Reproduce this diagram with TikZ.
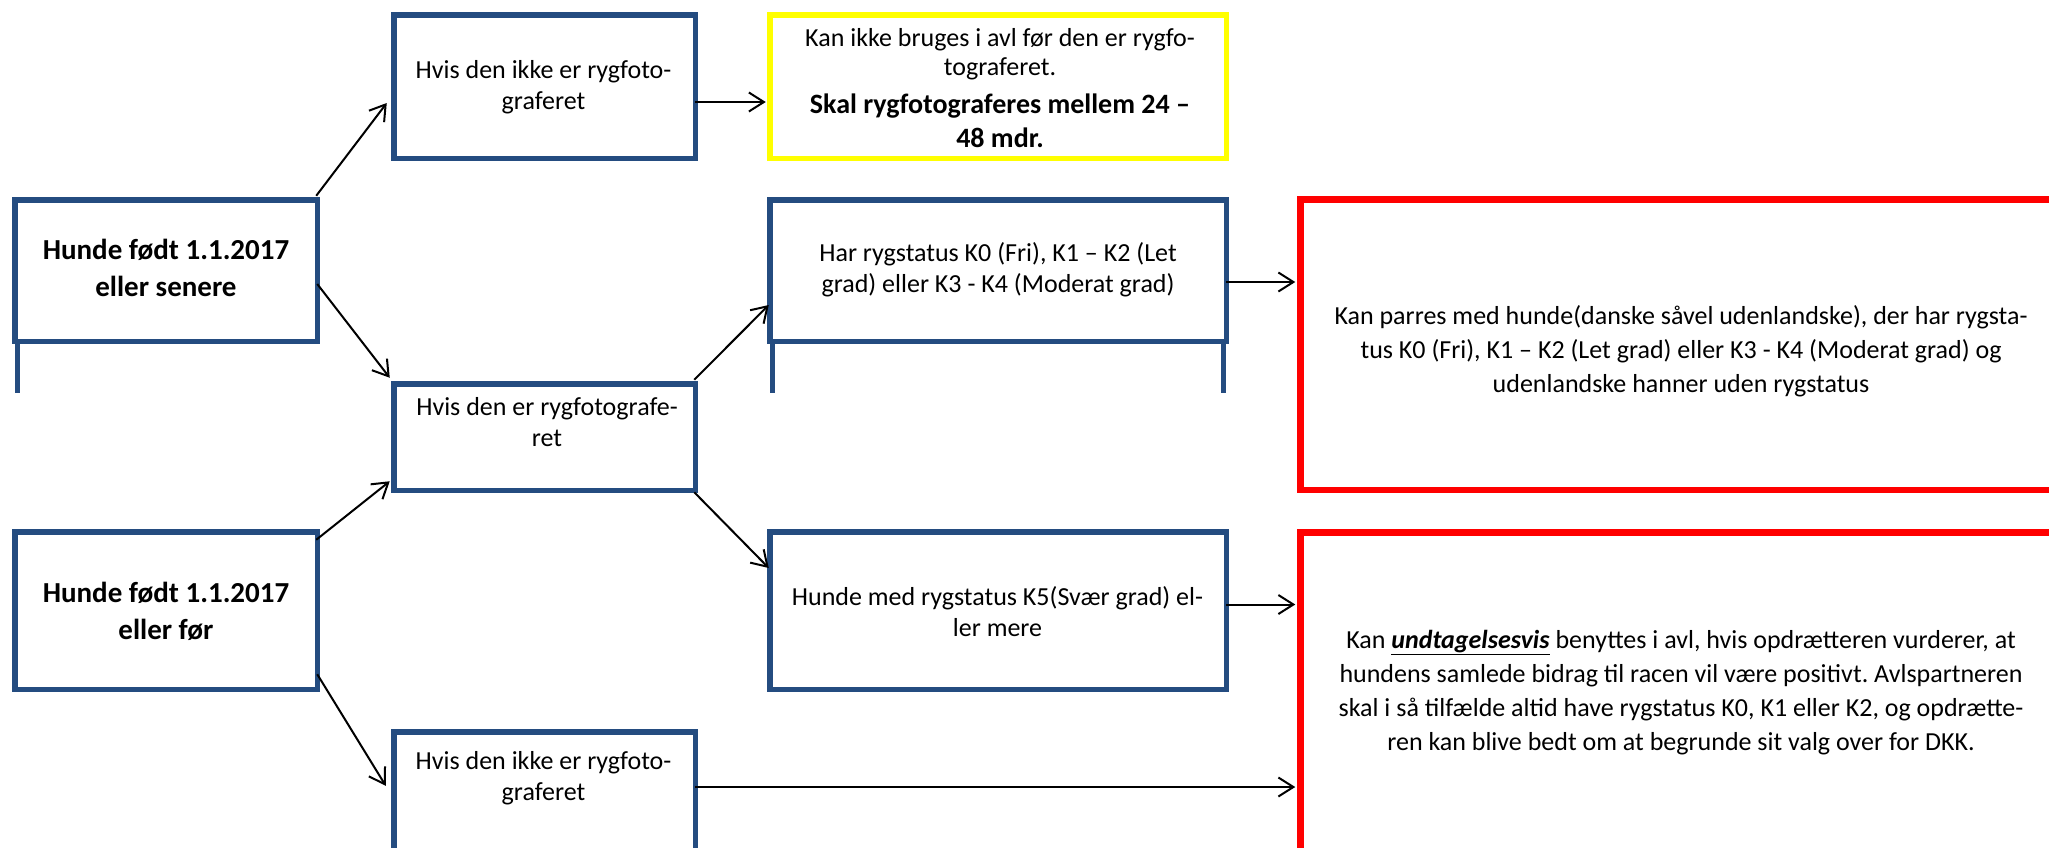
\documentclass[tikz,border=0pt]{standalone}
\usepackage{fontspec}
\setmainfont{Carlito}
\frenchspacing
\usetikzlibrary{arrows.meta,calc}
\definecolor{dblue}{RGB}{36,76,128}
\definecolor{dred}{RGB}{255,0,0}
\definecolor{dyellow}{RGB}{255,255,0}
\tikzset{
  bbox/.style={draw=dblue,line width=5.5pt,inner sep=0pt,outer sep=0pt,rectangle},
  rbox/.style={draw=dred,line width=6.5pt,inner sep=0pt,outer sep=0pt,rectangle},
  ybox/.style={draw=dyellow,line width=5.5pt,inner sep=0pt,outer sep=0pt,rectangle},
  txt/.style={align=center,inner sep=0pt,font=\fontsize{26}{31}\selectfont},
  btxt/.style={align=center,inner sep=0pt,font=\bfseries\fontsize{29}{37}\selectfont},
  conn/.style={line width=2pt,-{Straight Barb[length=15pt,width=19pt]}},
}
\begin{document}
\begin{tikzpicture}[x=1pt,y=-1pt]
\frenchspacing
\useasboundingbox (0,0) rectangle (2049,847);
\clip (0,0) rectangle (2049,847);
% boxes
\node[bbox,minimum width=302.5pt,minimum height=141.5pt] (A) at (166,270.5) {};
\node[bbox,minimum width=302.5pt,minimum height=157.5pt] (B) at (166,610.5) {};
\node[bbox,minimum width=301.5pt,minimum height=143.5pt] (C) at (544.5,86.5) {};
\node[ybox,minimum width=456.5pt,minimum height=143.5pt] (Y) at (998,86.5) {};
\node[bbox,minimum width=456.5pt,minimum height=141.5pt] (D) at (998,270.5) {};
\node[bbox,minimum width=301.5pt,minimum height=106.5pt] (E) at (544.5,437) {};
\node[bbox,minimum width=456.5pt,minimum height=157.5pt] (F) at (998,610.5) {};
\node[bbox,minimum width=301.5pt,minimum height=165.5pt] (G) at (544.5,814.5) {};
\node[rbox,minimum width=796.5pt,minimum height=290.5pt] (R1) at (1698.5,344.5) {};
\node[rbox,minimum width=796.5pt,minimum height=364.5pt] (R2) at (1698.5,714.5) {};
% extended side lines
\draw[dblue,line width=5.5pt] ($(A.south west)+(2.75,0)$) -- ++(0,52);
\draw[dblue,line width=5.5pt] ($(D.south west)+(2.75,0)$) -- ++(0,52);
\draw[dblue,line width=5.5pt] ($(D.south east)+(-2.75,0)$) -- ++(0,52);
% texts
\node[btxt] (tA) at (166,267.5) {Hunde født 1.1.2017\\eller senere};
\node[btxt] (tB) at (166,611.5) {Hunde født 1.1.2017\\eller før};
\node[txt] (tC) at (543.5,87.5) {Hvis den ikke er rygfoto-\\graferet};
\node[txt] (tD) at (998,269.5) {Har rygstatus K0 (Fri), K1 – K2 (Let\\grad) eller K3 - K4 (Moderat grad)};
\node[txt] (tE) at (547,422) {Hvis den er rygfotografe-\\ret};
\node[txt] (tF) at (997.5,611.5) {Hunde med rygstatus K5(Svær grad) el-\\ler mere};
\node[txt] (tG) at (543.5,778) {Hvis den ikke er rygfoto-\\graferet};
\node[align=center,inner sep=0pt,font=\fontsize{26}{28.5}\selectfont] (tY) at (1000,88.5) {%
  Kan ikke bruges i avl før den er rygfo-\\
  tograferet.\\[9.5pt]
  {\bfseries\fontsize{28}{34}\selectfont Skal rygfotograferes mellem 24 –}\\[6pt]
  {\bfseries\fontsize{28}{34}\selectfont 48 mdr.}};
\node[txt,font=\fontsize{26}{34}\selectfont] (tR1) at (1681,351) {Kan parres med hunde(danske såvel udenlandske), der har rygsta-\\tus K0 (Fri), K1 – K2 (Let grad) eller K3 - K4 (Moderat grad) og\\udenlandske hanner uden rygstatus};
\node[txt,font=\fontsize{26}{34}\selectfont] (tR2) at (1681,693) {Kan \underline{\textbf{\textit{undtagelsesvis}}} benyttes i avl, hvis opdrætteren vurderer, at\\hundens samlede bidrag til racen vil være positivt. Avlspartneren\\skal i så tilfælde altid have rygstatus K0, K1 eller K2, og opdrætte-\\ren kan blive bedt om at begrunde sit valg over for DKK.};
% connectors
\draw[conn] ($(A.north east)+(-1,-4)$) -- ($(C.west)+(-7,16.5)$);
\draw[conn] ($(A.east)+(0,13.5)$) -- ($(E.north west)+(-4,-6)$);
\draw[conn] ($(B.north east)+(-1,8)$) -- ($(E.south west)+(-4,-9)$);
\draw[conn] ($(B.south east)+(0,-15)$) -- ($(G.north west)+(-8,54)$);
\draw[conn] ($(C.east)+(0,15.5)$) -- ($(Y.west)+(-4,15.5)$);
\draw[conn] ($(E.north east)+(-1,-4)$) -- ($(D.west)+(-1,34.5)$);
\draw[conn] ($(E.south east)+(-1,2)$) -- ($(F.west)+(-1,-42.5)$);
\draw[conn] ($(D.east)+(0,11.5)$) -- ($(R1.west)+(-5,-62.5)$);
\draw[conn] ($(F.east)+(0,-6)$) -- ($(R2.west)+(-5,-110)$);
\draw[conn] ($(G.east)+(0,-27.5)$) -- ($(R2.west)+(-5,72.5)$);
\end{tikzpicture}
\end{document}
